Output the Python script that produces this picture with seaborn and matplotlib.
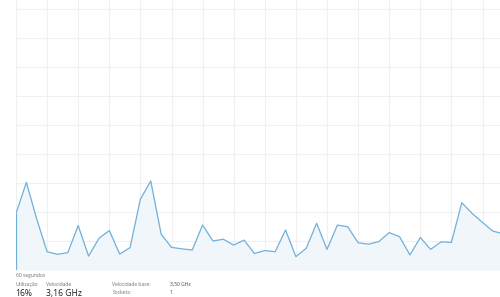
import matplotlib
matplotlib.use("Agg")
import matplotlib.pyplot as plt
import seaborn as sns
import pandas as pd

seconds = list(range(48))
cpu = [19.5, 30.2, 17.6, 6.3, 5.4, 6.0, 15.3, 4.8, 10.9, 13.6,
       5.5, 7.7, 24.4, 30.7, 12.4, 7.8, 7.3, 6.9, 15.5, 10.0,
       10.6, 8.6, 10.3, 5.7, 6.7, 6.3, 13.8, 4.6, 7.5, 16.1,
       7.1, 15.5, 14.9, 9.4, 8.9, 9.8, 12.9, 11.5, 5.2, 11.2,
       7.1, 9.7, 9.5, 23.2, 19.5, 16.4, 13.4, 12.5]

axis_label = "60 segundos"
stat_labels = ["Utilização", "Velocidade"]
stat_values = ["16%", "3,16 GHz"]
info_labels = ["Velocidade base:", "Sockets:"]
info_values = ["3,50 GHz", "1"]

df = pd.DataFrame({"t": seconds, "cpu": cpu})

sns.set_theme(style="white")
plt.rcParams['font.family'] = ['Open Sans', 'DejaVu Sans']

W, H = 500, 297
fig = plt.figure(figsize=(W / 100, H / 100), dpi=100)
fig.patch.set_facecolor("white")
ax = fig.add_axes([16 / W, (H - 270) / H, 622 / W, 290 / H])
ax.set_facecolor("white")

line_col = "#6fb0dc"
fill_col = "#f1f6fa"

ax.fill_between(df["t"], 0, df["cpu"], color=fill_col, linewidth=0, zorder=1)
sns.lineplot(data=df, x="t", y="cpu", ax=ax, color=line_col, linewidth=0.9, zorder=3)
ax.vlines(seconds[0], 0, cpu[0], color=line_col, linewidth=0.9, zorder=3)

ax.set_xlim(0, 60)
ax.set_ylim(0, 100)
ax.set_xticks(range(0, 61, 3))
ax.set_yticks(range(0, 101, 10))
ax.grid(True, color="#f0f0f0", linewidth=0.8, zorder=0)
ax.set_axisbelow(True)
ax.tick_params(left=False, bottom=False, labelleft=False, labelbottom=False)
ax.set_xlabel("")
ax.set_ylabel("")
for s in ax.spines.values():
    s.set_visible(False)

def ftext(x, y, s, size, color, va="center"):
    fig.text(x / W, 1 - y / H, s, fontsize=size, color=color, ha="left", va=va)

ftext(15.5, 275, axis_label, 3.6, "#707070")
ftext(15.5, 284.5, stat_labels[0], 3.6, "#707070")
ftext(46.5, 284.5, stat_labels[1], 3.6, "#707070")
ftext(15.5, 296.2, stat_values[0], 6.2, "#202020", va="baseline")
ftext(46.5, 296.2, stat_values[1], 6.2, "#202020", va="baseline")
ftext(112.5, 284.5, info_labels[0], 3.6, "#707070")
ftext(112.5, 292, info_labels[1], 3.6, "#707070")
ftext(170, 284.5, info_values[0], 3.6, "#404040")
ftext(170, 292, info_values[1], 3.6, "#404040")

fig.savefig("out.png", dpi=100, facecolor="white")
